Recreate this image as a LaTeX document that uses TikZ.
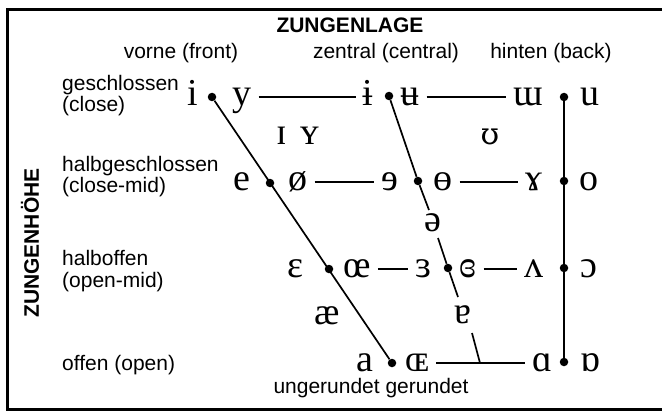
\documentclass[tikz,border=0pt]{standalone}
\usepackage{fontspec}
\setmainfont{Liberation Sans}
\newfontfamily\ipafont{Liberation Serif}
\newfontfamily\ipafontb{DejaVu Serif}
\begin{document}
\begin{tikzpicture}[x=1pt,y=-1pt,
  lab/.style={font=\fontsize{21}{21}\selectfont, inner sep=0pt},
  ttl/.style={font=\fontsize{21}{21}\selectfont\bfseries, inner sep=0pt},
  ipa/.style={font=\ipafont\fontsize{38}{38}\selectfont, inner sep=0pt, text height=17.4pt, text depth=0pt},
  ipab/.style={ipa, font=\ipafontb\fontsize{30}{30}\selectfont},
  dot/.style={circle, fill=black, inner sep=0pt, minimum size=8.5pt},
  ln/.style={line width=1.7pt},
  hl/.style={ln, shorten <=7pt, shorten >=7pt}]
\useasboundingbox (0,0) rectangle (662,412);
\draw[line width=3pt] (680,10) -- (7.5,10) -- (7.5,409.5) -- (680,409.5);
% headings
\node[ttl, anchor=base] (tZL) at (350,33) {ZUNGENLAGE};
\node[lab, anchor=base] (tF) at (181,59) {vorne (front)};
\node[lab, anchor=base] (tC) at (386,59) {zentral (central)};
\node[lab, anchor=base] (tB) at (551,59) {hinten (back)};
\node[lab, anchor=base west] (r1a) at (62,91) {geschlossen};
\node[lab, anchor=base west] (r1b) at (62,112) {(close)};
\node[lab, anchor=base west] (r2a) at (62,171) {halbgeschlossen};
\node[lab, anchor=base west] (r2b) at (62,192) {(close-mid)};
\node[lab, anchor=base west] (r3a) at (62,265) {halboffen};
\node[lab, anchor=base west] (r3b) at (62,287) {(open-mid)};
\node[lab, anchor=base west] (r4) at (62,370) {offen (open)};
\node[lab, anchor=base] (ug) at (371,393) {ungerundet gerundet};
\node[ttl, rotate=90] (tZH) at (30,243) {ZUNGENHÖHE};
% close
\node[ipa] (vi) at (193,97) {i};
\node[dot] (d1) at (212,97) {};
\node[ipa] (vy) at (242,97) {y};
\node[ipa] (vibar) at (368,97) {ɨ};
\node[dot] (d2) at (389,96) {};
\node[ipa] (vubar) at (410,97) {ʉ};
\node[ipa] (vmw) at (528,97) {ɯ};
\node[dot] (d3) at (564,97) {};
\node[ipa] (vu) at (590,97) {u};
% near-close
\node[ipa] (vI) at (282,136) {ɪ};
\node[ipa] (vY) at (310,136) {ʏ};
\node[ipab] (vU) at (490,136) {ʊ};
% close-mid
\node[ipa] (ve) at (242,182) {e};
\node[dot] (d4) at (270,183) {};
\node[ipa] (voe) at (298,182) {ø};
\node[ipa] (vreve) at (390,182) {ɘ};
\node[dot] (d5) at (418,181) {};
\node[ipa] (vbo) at (443,182) {ɵ};
\node[ipa] (vrh) at (534,182) {ɤ};
\node[dot] (d6) at (564,181) {};
\node[ipa] (vo) at (589,182) {o};
% mid
\node[ipa] (vschwa) at (433,223) {ə};
% open-mid
\node[ipa] (veps) at (295,269) {ɛ};
\node[dot] (d7) at (329,269) {};
\node[ipa] (voel) at (357,269) {œ};
\node[ipa] (vreps) at (423,269) {ɜ};
\node[dot] (d8) at (448,268) {};
\node[ipa] (vcreps) at (468,269) {ɞ};
\node[ipa] (vwedge) at (534,269) {ʌ};
\node[dot] (d9) at (564,268) {};
\node[ipa] (vopeno) at (589,269) {ɔ};
% near-open
\node[ipa] (vae) at (327,316) {æ};
\node[ipa] (vturna) at (463,315) {ɐ};
% open
\node[ipa] (va) at (365,363) {a};
\node[dot] (d10) at (392,363) {};
\node[ipa] (vOE) at (417,363) {ɶ};
\node[ipa] (valpha) at (542,363) {ɑ};
\node[dot] (d11) at (564,362) {};
\node[ipa] (vturnalpha) at (590,363) {ɒ};
% free ends
\coordinate (c1) at (429,210);
\coordinate (c2) at (438,238);
\coordinate (c3) at (458,297);
\coordinate (c4) at (472,333);
\coordinate (c5) at (480,363);
% slanted and vertical lines
\draw[ln] (d1) -- (d10);
\draw[ln] (d2) -- (d5) -- (c1);
\draw[ln] (c2) -- (d8) -- (c3);
\draw[ln] (d3) -- (d11);
\draw[ln] (c4) -- (c5);
% horizontal lines
\draw[hl] (vy) -- (vibar);
\draw[hl] (vubar) -- (vmw);
\draw[hl] (voe) -- (vreve);
\draw[hl] (vbo) -- (vrh);
\draw[hl] (voel) -- (vreps);
\draw[hl] (vcreps) -- (vwedge);
\draw[hl] (vOE) -- (valpha);
\end{tikzpicture}
\end{document}
